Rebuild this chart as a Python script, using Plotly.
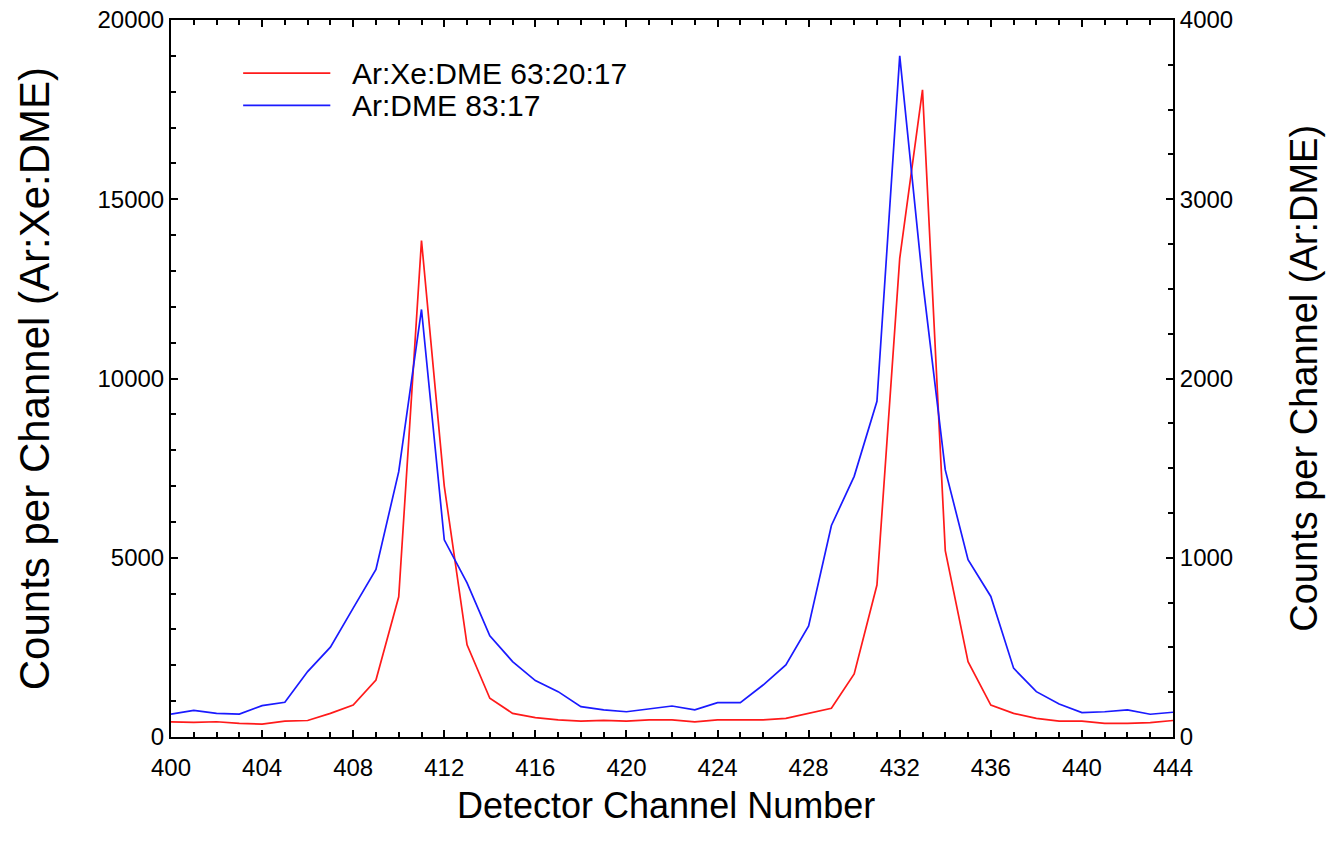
import plotly.graph_objects as go

# detector channels 400..444
channels = list(range(400, 445))

# Ar:Xe:DME 63:20:17 counts (left axis)
xe_counts = [420, 410, 425, 380, 360, 445, 460, 660, 890, 1590,
             3910, 13850, 7000, 2570, 1080, 660, 540, 475, 445, 465,
             445, 475, 475, 420, 475, 465, 475, 520, 660, 800,
             1760, 4240, 13350, 18050, 5200, 2100, 890, 660, 520, 445,
             445, 380, 380, 400, 460]

# Ar:DME 83:17 counts (right axis)
dme_counts = [128, 149, 132, 128, 175, 194, 365, 501, 719, 935,
              1480, 2385, 1100, 860, 564, 421, 315, 253, 169, 151,
              141, 155, 173, 151, 192, 192, 290, 402, 620, 1180,
              1454, 1873, 3800, 2550, 1490, 989, 784, 384, 253, 184,
              136, 141, 151, 127, 138]

legend_names = ["Ar:Xe:DME 63:20:17", "Ar:DME 83:17"]
x_ticks = list(range(400, 445, 4))
left_ticks = [0, 5000, 10000, 15000, 20000]
right_ticks = [0, 1000, 2000, 3000, 4000]

FONT = "Arial, Liberation Sans, sans-serif"
RED = "#ff1a1a"
BLUE = "#1a1aff"

fig = go.Figure()

fig.add_trace(go.Scatter(
    x=channels, y=xe_counts, name=legend_names[0], mode="lines",
    line=dict(color=RED, width=1.7), showlegend=False
))
fig.add_trace(go.Scatter(
    x=channels, y=dme_counts, name=legend_names[1], mode="lines",
    line=dict(color=BLUE, width=1.7), yaxis="y2", showlegend=False
))

# hand-drawn legend to get the long sample lines
for name, col, ly in zip(legend_names, [RED, BLUE], [0.926, 0.881]):
    fig.add_shape(type="line", xref="paper", yref="paper",
                  x0=0.072, x1=0.159, y0=ly, y1=ly,
                  line=dict(color=col, width=1.7))
    fig.add_annotation(xref="paper", yref="paper", x=0.179, y=ly,
                       text=name, showarrow=False, xanchor="left",
                       yanchor="middle", font=dict(size=30, color="black"))

# axis titles placed as annotations
fig.add_annotation(xref="paper", yref="paper", x=0.494, y=-0.095,
                   text="Detector Channel Number", showarrow=False,
                   xanchor="center", yanchor="middle", font=dict(size=36))
fig.add_annotation(xref="paper", yref="paper", x=-0.136, y=0.5,
                   text="Counts per Channel (Ar:Xe:DME)", showarrow=False, textangle=-90,
                   xanchor="center", yanchor="middle", font=dict(size=42))
fig.add_annotation(xref="paper", yref="paper", x=1.13, y=0.5,
                   text="Counts per Channel (Ar:DME)", showarrow=False, textangle=-90,
                   xanchor="center", yanchor="middle", font=dict(size=38))

tick_style = dict(ticks="inside", ticklen=7, tickwidth=1.5, tickcolor="black",
                  showline=True, linecolor="black", linewidth=2,
                  showgrid=False, zeroline=False, automargin=False,
                  tickfont=dict(size=24))

fig.update_layout(
    width=1330, height=857,
    margin=dict(l=171, r=157, t=20, b=120),
    paper_bgcolor="white", plot_bgcolor="white",
    font=dict(family=FONT, color="black", size=24),
    xaxis=dict(
        range=[400, 444], tickvals=x_ticks, mirror="ticks", ticklabelstandoff=8,
        minor=dict(dtick=1, ticks="inside", ticklen=5, tickcolor="black", tickwidth=1.5),
        **tick_style
    ),
    yaxis=dict(
        range=[0, 20000], tickvals=left_ticks, tickformat="d",
        minor=dict(dtick=1000, ticks="inside", ticklen=5, tickcolor="black", tickwidth=1.5),
        **tick_style
    ),
    yaxis2=dict(
        range=[0, 4000], tickvals=right_ticks, tickformat="d",
        overlaying="y", side="right",
        minor=dict(dtick=250, ticks="inside", ticklen=5, tickcolor="black", tickwidth=1.5),
        **tick_style
    ),
)

# drop the default page margin so the figure sits at the window corner
fig.write_html("out.html", config={"displayModeBar": False},
               post_script="document.body.style.margin = '0';")
